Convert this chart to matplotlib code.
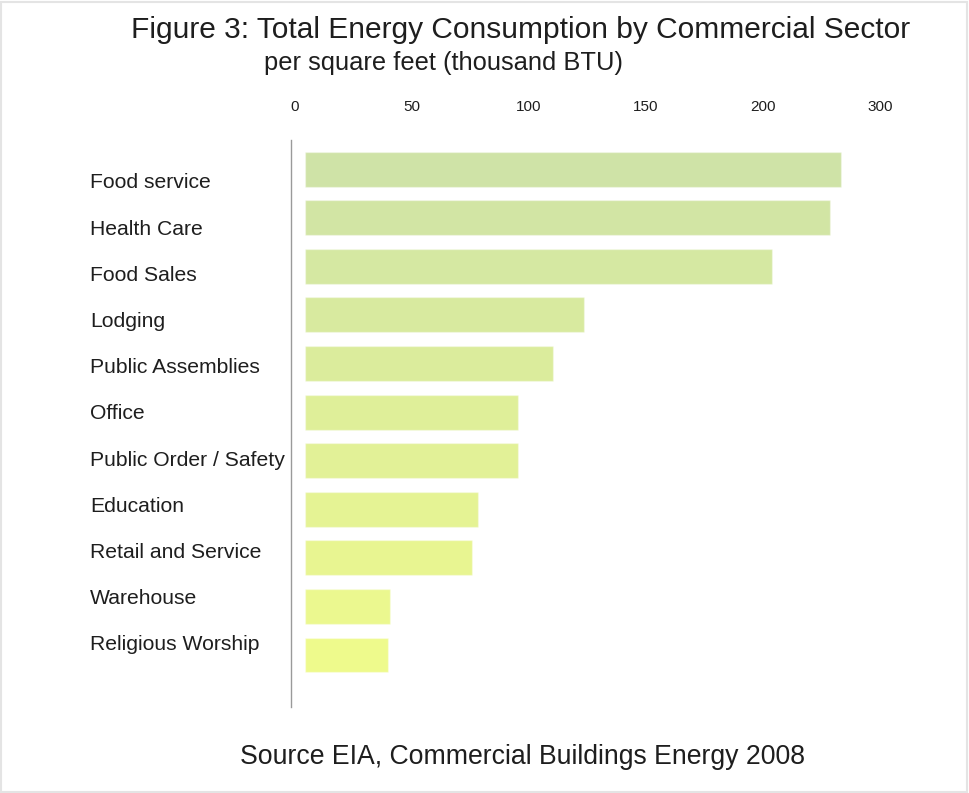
import matplotlib
matplotlib.use("Agg")
import matplotlib.pyplot as plt
import numpy as np
from matplotlib.colors import LinearSegmentedColormap
from matplotlib.patches import Rectangle

plt.rcParams["font.family"] = ["Liberation Sans", "DejaVu Sans"]

# energy use per square foot, thousand BTU
sectors = [
    "Food service",
    "Health Care",
    "Food Sales",
    "Lodging",
    "Public Assemblies",
    "Office",
    "Public Order / Safety",
    "Education",
    "Retail and Service",
    "Warehouse",
    "Religious Worship",
]
consumption = [243.8, 238.6, 212.1, 126.7, 112.9, 96.7, 96.7, 78.8, 75.9, 38.5, 37.6]
tick_labels = ["0", "50", "100", "150", "200", "300"]

W, H = 969, 793
fig = plt.figure(figsize=(W / 100, H / 100), dpi=100)
fig.patch.set_facecolor("white")

# light frame around the whole figure
fig.patches.append(Rectangle((1 / W, 1 / H), (W - 3) / W, (H - 3) / H,
                             transform=fig.transFigure, fill=False,
                             edgecolor="#e4e4e4", linewidth=1.5))

text_color = "#1e1e1e"


def box(left, top, right, bottom):
    return [left / W, 1 - bottom / H, (right - left) / W, (bottom - top) / H]


ax = fig.add_axes(box(291, 140, 965, 707))
n = len(sectors)
y = np.arange(n)
cmap = LinearSegmentedColormap.from_list("greenyellow", ["#cfe3a7", "#eefa8c"])
colors = [cmap(i / (n - 1)) for i in range(n)]
ax.barh(y, consumption, height=0.72, color=colors,
        edgecolor=[(1, 1, 1, 0.35)] * n, linewidth=1)
ax.set_xlim(-6.4, 300)
ax.set_ylim(n - 1 + 1.07, -0.597)
for side in ["top", "right", "bottom"]:
    ax.spines[side].set_visible(False)
ax.spines["left"].set_color("#9a9a9a")
ax.spines["left"].set_linewidth(1.0)
ax.set_xticks([])
ax.set_yticks([])

# scale labels along the top
ax_top = fig.add_axes(box(295, 100, 880, 114))
ax_top.set_xlim(0, len(tick_labels) - 1)
ax_top.set_ylim(0, 1)
ax_top.axis("off")
for i, lab in enumerate(tick_labels):
    ax_top.text(i, 0.5, lab, ha="center", va="center", fontsize=11,
                color=text_color)

# category names down the left
for i, name in enumerate(sectors):
    fig.text(90 / W, 1 - (183 + i * 46.2) / H, name, ha="left", va="center",
             fontsize=15.2, color=text_color)

fig.text(521 / W, 1 - 30 / H, "Figure 3: Total Energy Consumption by Commercial Sector",
         ha="center", va="center", fontsize=21.5, color=text_color)
fig.text(444 / W, 1 - 63 / H, "per square feet (thousand BTU)",
         ha="center", va="center", fontsize=18.4, color=text_color)
fig.text(523 / W, 1 - 757 / H, "Source EIA, Commercial Buildings Energy 2008",
         ha="center", va="center", fontsize=19.2, color=text_color)

fig.savefig("out.png", dpi=100, facecolor="white")
